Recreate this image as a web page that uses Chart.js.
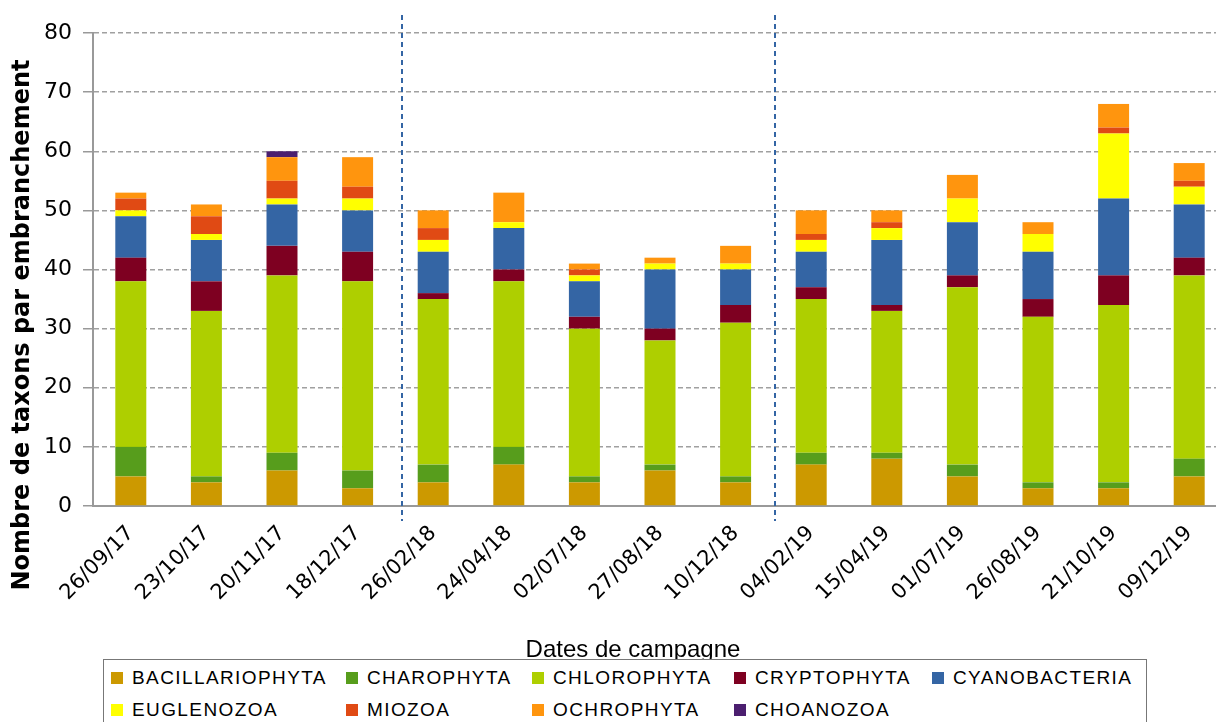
<!DOCTYPE html>
<html>
<head>
<meta charset="utf-8">
<script src="https://cdn.jsdelivr.net/npm/chart.js@4.4.1/dist/chart.umd.min.js"></script>
<style>
  html, body { margin: 0; padding: 0; background: #fff; width: 1216px; height: 722px; overflow: hidden; }
  #wrap { position: absolute; left: 0; top: 0; width: 1232px; height: 722px; }
  #legend {
    position: absolute; left: 103px; top: 659px; width: 1044px; height: 80px;
    box-sizing: border-box; border: 1px solid #777; background: #fff;
    padding: 6px 0 0 7px;
    display: grid; grid-template-columns: 235px 186px 202px 198px 200px;
    grid-auto-rows: 24px; row-gap: 8px;
    font-family: "Liberation Sans", Arial, sans-serif; font-size: 19px; letter-spacing: 1.4px; color: #000;
  }
  .item { display: flex; align-items: center; white-space: nowrap; }
  .sw { width: 12px; height: 12px; margin-right: 9px; flex: none; }
</style>
</head>
<body>
<div id="wrap"><canvas id="chart"></canvas></div>
<div id="legend"></div>
<script>
// dates de campagne
const dates = ['26/09/17', '23/10/17', '20/11/17', '18/12/17', '26/02/18', '24/04/18', '02/07/18', '27/08/18',
    '10/12/18', '04/02/19', '15/04/19', '01/07/19', '26/08/19', '21/10/19', '09/12/19'];

// nombre de taxons par embranchement
const bacillariophyta = [5, 4, 6, 3, 4, 7, 4, 6, 4, 7, 8, 5, 3, 3, 5];
const charophyta      = [5, 1, 3, 3, 3, 3, 1, 1, 1, 2, 1, 2, 1, 1, 3];
const chlorophyta     = [28, 28, 30, 32, 28, 28, 25, 21, 26, 26, 24, 30, 28, 30, 31];
const cryptophyta     = [4, 5, 5, 5, 1, 2, 2, 2, 3, 2, 1, 2, 3, 5, 3];
const cyanobacteria   = [7, 7, 7, 7, 7, 7, 6, 10, 6, 6, 11, 9, 8, 13, 9];
const euglenozoa      = [1, 1, 1, 2, 2, 1, 1, 1, 1, 2, 2, 4, 3, 11, 3];
const miozoa          = [2, 3, 3, 2, 2, 0, 1, 0, 0, 1, 1, 0, 0, 1, 1];
const ochrophyta      = [1, 2, 4, 5, 3, 5, 1, 1, 3, 4, 2, 4, 2, 4, 3];
const choanozoa       = [0, 0, 1, 0, 0, 0, 0, 0, 0, 0, 0, 0, 0, 0, 0];

const yTicks = [0, 10, 20, 30, 40, 50, 60, 70, 80];
// séparations entre années (position sur l'axe des catégories)
const separators = [3.59, 8.52];

const series = [
    { label: 'BACILLARIOPHYTA', data: bacillariophyta, color: '#cc9900' },
    { label: 'CHAROPHYTA', data: charophyta, color: '#579d1c' },
    { label: 'CHLOROPHYTA', data: chlorophyta, color: '#aecf00' },
    { label: 'CRYPTOPHYTA', data: cryptophyta, color: '#7e0021' },
    { label: 'CYANOBACTERIA', data: cyanobacteria, color: '#3465a4' },
    { label: 'EUGLENOZOA', data: euglenozoa, color: '#ffff00' },
    { label: 'MIOZOA', data: miozoa, color: '#e04a14' },
    { label: 'OCHROPHYTA', data: ochrophyta, color: '#ff950e' },
    { label: 'CHOANOZOA', data: choanozoa, color: '#4b1f6f' }
];

const extras = {
    id: 'extras',
    afterDraw(chart) {
        const { ctx, chartArea, scales } = chart;
        ctx.save();
        // lignes pointillées bleues
        ctx.strokeStyle = '#3465a4';
        ctx.lineWidth = 2;
        ctx.setLineDash([5, 4]);
        separators.forEach(v => {
            const x = Math.round(scales.x.getPixelForValue(v));
            ctx.beginPath();
            ctx.moveTo(x, chartArea.top - 18);
            ctx.lineTo(x, chartArea.bottom + 15);
            ctx.stroke();
        });
        ctx.setLineDash([]);
        // titres des axes
        ctx.fillStyle = '#000';
        ctx.font = 'bold 24px "DejaVu Sans"';
        ctx.textAlign = 'center';
        ctx.textBaseline = 'middle';
        ctx.translate(23, 325);
        ctx.rotate(-Math.PI / 2);
        ctx.fillText('Nombre de taxons par embranchement', 0, 0);
        ctx.restore();
        ctx.save();
        ctx.fillStyle = '#000';
        ctx.font = '24px "Liberation Sans"';
        ctx.textAlign = 'center';
        ctx.textBaseline = 'alphabetic';
        ctx.fillText('Dates de campagne', 633, 657);
        ctx.restore();
    }
};

new Chart(document.getElementById('chart'), {
    type: 'bar',
    data: {
        labels: dates,
        datasets: series.map(s => ({
            label: s.label,
            data: s.data,
            backgroundColor: s.color,
            borderWidth: 0,
            categoryPercentage: 1,
            barPercentage: 0.41
        }))
    },
    options: {
        responsive: true,
        maintainAspectRatio: false,
        animation: false,
        layout: { padding: { top: 33, right: 5, left: 0, bottom: 0 } },
        plugins: { legend: { display: false }, tooltip: { enabled: false } },
        scales: {
            x: {
                stacked: true,
                grid: { display: false },
                border: { display: true, color: '#999', width: 2 },
                ticks: {
                    color: '#000',
                    font: { family: 'DejaVu Sans', size: 21 },
                    minRotation: 45, maxRotation: 45,
                    padding: 7,
                    autoSkip: false
                },
                afterFit: scale => { scale.height = 216; }
            },
            y: {
                stacked: true,
                min: 0, max: 80,
                afterBuildTicks: scale => { scale.ticks = yTicks.map(v => ({ value: v })); },
                grid: { color: '#a0a0a0', lineWidth: 1.5, tickLength: 10, tickColor: '#999', tickWidth: 1.5, tickBorderDash: [] },
                border: { display: true, color: '#999', width: 2, dash: [5, 3] },
                ticks: { color: '#000', font: { family: 'DejaVu Sans', size: 22 }, padding: 11 },
                afterFit: scale => { scale.width = 93; }
            }
        }
    },
    plugins: [extras]
});

// légende
const legend = document.getElementById('legend');
series.forEach(s => {
    const it = document.createElement('div');
    it.className = 'item';
    const sw = document.createElement('span');
    sw.className = 'sw';
    sw.style.background = s.color;
    it.appendChild(sw);
    it.appendChild(document.createTextNode(s.label));
    legend.appendChild(it);
});
</script>
</body>
</html>
